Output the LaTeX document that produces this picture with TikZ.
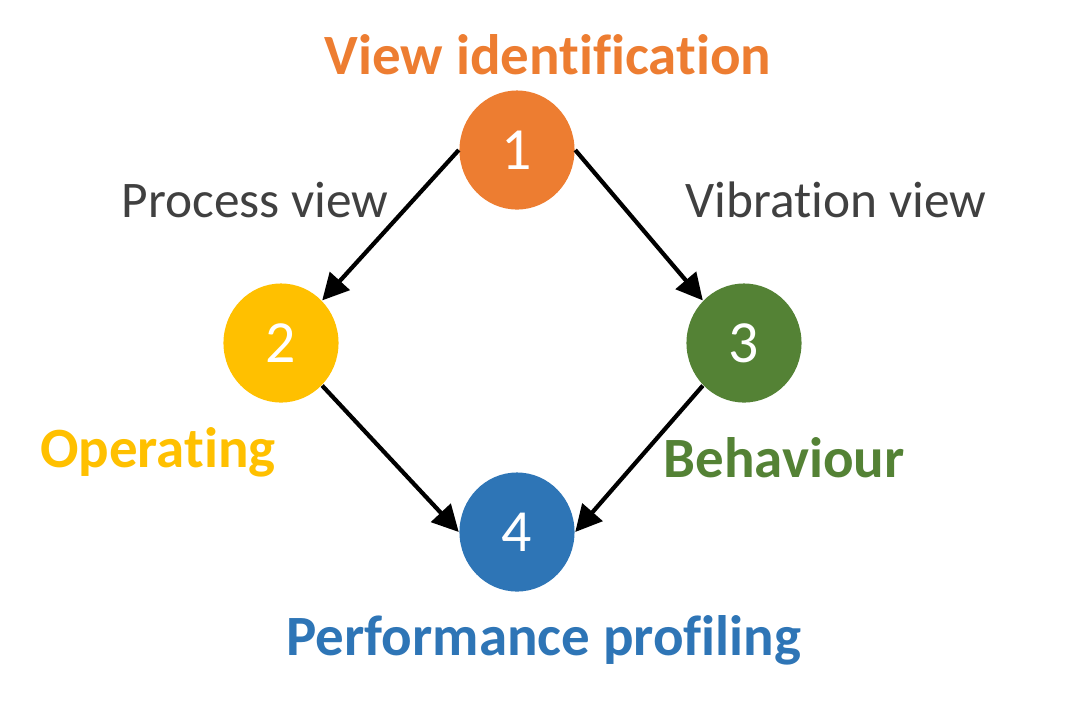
\documentclass[tikz,border=0pt]{standalone}
\usepackage{fontspec}
\setmainfont[Ligatures=NoCommon]{Carlito}
\usetikzlibrary{arrows.meta, shapes.geometric}
\definecolor{orng}{HTML}{ED7D31}
\definecolor{gold}{HTML}{FFC000}
\definecolor{grn}{HTML}{548235}
\definecolor{blu}{HTML}{2E75B6}
\definecolor{txtgray}{HTML}{404040}

\begin{document}
\begin{tikzpicture}[x=0.01cm, y=-0.01cm,
                    stepnode/.style={ellipse, minimum width=1.15cm, minimum height=1.19cm, inner sep=0pt,
                                 text=white, font=\fontsize{17}{20}\selectfont},
                    view/.style={text=txtgray, font=\fontsize{14.6}{18}\selectfont},
                    title/.style={font=\bfseries\fontsize{16.2}{20}\selectfont},
                    flow/.style={line width=1.2pt, -{Triangle[length=7.5pt, width=7.5pt]}}
                ]
                \useasboundingbox (0,0) rectangle (1090,705);
                \node[stepnode, fill=orng] (s1) at (517,150) {1};
                \node[stepnode, fill=gold] (s2) at (281,343) {2};
                \node[stepnode, fill=grn] (s3) at (744,343) {3};
                \node[stepnode, fill=blu] (s4) at (517,532) {4};

                \node[title, text=orng] (t1) at (548,55) {View identification};
                \node[title, text=gold] (t2) at (158,452) {Operating};
                \node[title, text=grn] (t3) at (784,458) {Behaviour};
                \node[title, text=blu] (t4) at (544,640) {Performance profiling};

                \node[view] (v2) at (255,200) {Process view};
                \node[view] (v3) at (836,200) {Vibration view};

                \draw[flow] (s1.west) -- (s2.north east);
                \draw[flow] (s1.east) -- (s3.north west);
                \draw[flow] (s2.south east) -- (s4.west);
                \draw[flow] (s3.south west) -- (s4.east);
\end{tikzpicture}
\end{document}
